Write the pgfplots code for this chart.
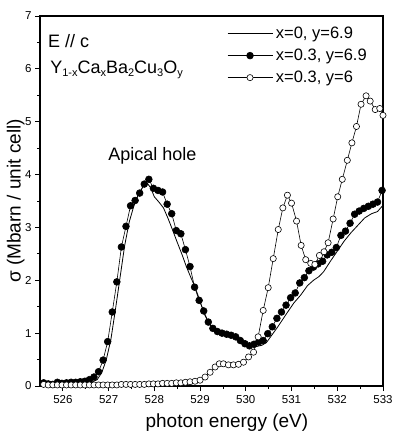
\documentclass[border=0pt]{standalone}
\usepackage{fontspec}
\setmainfont{Liberation Sans}
\usepackage{pgfplots}
\pgfplotsset{compat=1.18}
\begin{document}
\begin{tikzpicture}[x=1pt,y=1pt]
\begin{axis}[
  scale only axis,
  width=343pt, height=370pt,
  xmin=525.5, xmax=533, ymin=0, ymax=7,
  xtick={526,527,...,533}, ytick={0,1,...,7},
  minor x tick num=1, minor y tick num=1,
  xtick pos=bottom, ytick pos=left,
  tick align=outside,
  major tick length=5pt, minor tick length=3pt,
  axis line style={line width=1.1pt},
  every tick/.style={line width=0.8pt,black},
  /pgf/number format/assume math mode=true,
  /pgf/number format/1000 sep={},
  tick label style={font=\fontsize{11.5}{13}\selectfont},
  xticklabel style={yshift=-1pt},
  xlabel={photon energy (eV)},
  ylabel={σ (Mbarn / unit cell)},
  label style={font=\fontsize{19}{22}\selectfont},
  xlabel style={at={(rel axis cs:0.545,0)},anchor=north,yshift=-24pt},
  ylabel style={at={(rel axis cs:0,0.5)},anchor=south,yshift=12pt},
  legend style={draw=none,fill=none,font=\fontsize{16.5}{19}\selectfont,
    at={(rel axis cs:0.545,0.976)},anchor=north west,inner sep=0pt,
    row sep=5pt, legend cell align=left},
  legend image code/.code={\draw[mark repeat=2,mark phase=2,#1] plot coordinates {(0pt,0pt) (22.5pt,0pt) (45pt,0pt)};\path (46pt,0pt);},
  clip=true,
]
\addplot[black, line width=0.8pt] coordinates {
(525.5,0.02)(526.0,0.02)(526.4,0.03)(526.6,0.06)(526.75,0.12)(526.85,0.25)(526.95,0.50)
(527.05,0.88)(527.15,1.45)(527.25,2.05)(527.35,2.65)(527.45,3.10)(527.55,3.40)(527.65,3.62)
(527.75,3.77)(527.85,3.83)(527.92,3.75)(528.0,3.58)(528.1,3.48)(528.2,3.37)(528.3,3.17)
(528.4,2.95)(528.5,2.72)(528.6,2.50)(528.7,2.26)(528.8,2.05)(528.9,1.85)(529.0,1.60)
(529.1,1.35)(529.2,1.17)(529.3,1.07)(529.45,1.00)(529.6,0.97)(529.8,0.90)(529.95,0.82)
(530.05,0.76)(530.2,0.74)(530.35,0.77)(530.45,0.82)(530.55,0.94)(530.7,1.12)(530.9,1.38)
(531.05,1.57)(531.2,1.72)(531.35,1.90)(531.48,2.00)(531.6,2.07)(531.7,2.16)(531.85,2.36)
(532.0,2.55)(532.15,2.74)(532.3,2.90)(532.45,3.04)(532.6,3.18)(532.75,3.26)(532.88,3.30)
(533.0,3.42)};
\addlegendentry{x=0, y=6.9}
\addplot[black, line width=0.6pt, mark=*, mark size=3.4pt, mark options={fill=black}] coordinates {
(525.58,0.06)(525.68,0.04)(525.78,0.03)(525.88,0.07)(525.98,0.05)(526.08,0.06)(526.18,0.07)
(526.28,0.07)(526.38,0.08)(526.48,0.09)(526.58,0.12)(526.68,0.17)(526.78,0.27)(526.88,0.49)
(526.98,0.84)(527.08,1.40)(527.18,1.97)(527.28,2.63)(527.38,3.02)(527.48,3.41)(527.58,3.51)
(527.68,3.65)(527.78,3.82)(527.88,3.91)(527.98,3.74)(528.08,3.70)(528.18,3.67)(528.28,3.44)
(528.38,3.26)(528.48,2.94)(528.58,2.88)(528.68,2.58)(528.78,2.26)(528.88,1.87)(528.98,1.62)
(529.08,1.42)(529.18,1.21)(529.28,1.09)(529.38,1.03)(529.48,1.00)(529.58,0.98)(529.68,0.96)
(529.78,0.93)(529.88,0.86)(529.98,0.80)(530.08,0.76)(530.18,0.79)(530.28,0.83)(530.38,0.86)
(530.48,0.99)(530.58,1.12)(530.68,1.28)(530.78,1.40)(530.88,1.53)(530.98,1.67)(531.08,1.76)
(531.18,1.95)(531.28,2.05)(531.38,2.18)(531.48,2.25)(531.58,2.31)(531.68,2.36)(531.78,2.48)
(531.88,2.53)(531.98,2.62)(532.08,2.85)(532.18,2.93)(532.28,3.08)(532.38,3.25)(532.48,3.31)
(532.58,3.36)(532.68,3.40)(532.78,3.44)(532.88,3.48)(532.98,3.70)};
\addlegendentry{x=0.3, y=6.9}
\addplot[black, line width=0.6pt, mark=*, mark size=3.1pt, mark options={fill=white,line width=0.6pt}] coordinates {
(525.58,0.03)(525.68,0.02)(525.78,0.02)(525.88,0.02)(525.98,0.02)(526.08,0.02)(526.18,0.02)
(526.28,0.02)(526.38,0.02)(526.48,0.02)(526.58,0.02)(526.68,0.02)(526.78,0.02)(526.88,0.02)
(526.98,0.02)(527.08,0.02)(527.18,0.02)(527.28,0.03)(527.38,0.03)(527.48,0.03)(527.58,0.03)
(527.68,0.03)(527.78,0.03)(527.88,0.04)(527.98,0.04)(528.08,0.04)(528.18,0.05)(528.28,0.05)
(528.38,0.05)(528.48,0.06)(528.58,0.06)(528.68,0.07)(528.78,0.08)(528.89,0.09)
(529.0,0.11)(529.11,0.17)(529.22,0.26)(529.33,0.36)(529.42,0.42)(529.51,0.42)(529.62,0.40)
(529.73,0.40)(529.84,0.41)(529.95,0.45)(530.06,0.55)(530.17,0.64)(530.27,0.93)(530.38,1.43)
(530.49,1.86)(530.6,2.41)(530.71,2.96)(530.81,3.37)(530.91,3.61)(531.0,3.46)(531.11,3.12)
(531.21,2.66)(531.31,2.39)(531.42,2.32)(531.51,2.30)(531.61,2.47)(531.71,2.54)(531.8,2.71)
(531.91,3.16)(532.01,3.58)(532.11,3.91)(532.22,4.27)(532.32,4.60)(532.42,4.91)(532.52,5.33)
(532.63,5.49)(532.72,5.39)(532.83,5.23)(532.93,5.25)(533.0,5.12)};
\addlegendentry{x=0.3, y=6}
\node[anchor=base west,font=\fontsize{18}{21}\selectfont,inner sep=0pt] at (axis cs:525.675,6.41) {E // c};
\node[anchor=base west,font=\fontsize{18}{21}\selectfont,inner sep=0pt] at (axis cs:525.72,5.92)
  {Y\raisebox{-0.4ex}{\fontsize{11}{12}\selectfont 1-x}Ca\raisebox{-0.4ex}{\fontsize{11}{12}\selectfont x}Ba\raisebox{-0.4ex}{\fontsize{11}{12}\selectfont 2}Cu\raisebox{-0.4ex}{\fontsize{11}{12}\selectfont 3}O\raisebox{-0.4ex}{\fontsize{11}{12}\selectfont y}};
\node[anchor=base west,font=\fontsize{18}{21}\selectfont,inner sep=0pt] at (axis cs:526.99,4.275) {Apical hole};
\end{axis}
\pgfresetboundingbox
\path (current axis.south west) ++(-40pt,-49pt) rectangle (current axis.north east) ++(10pt,16pt);
\end{tikzpicture}
\end{document}
